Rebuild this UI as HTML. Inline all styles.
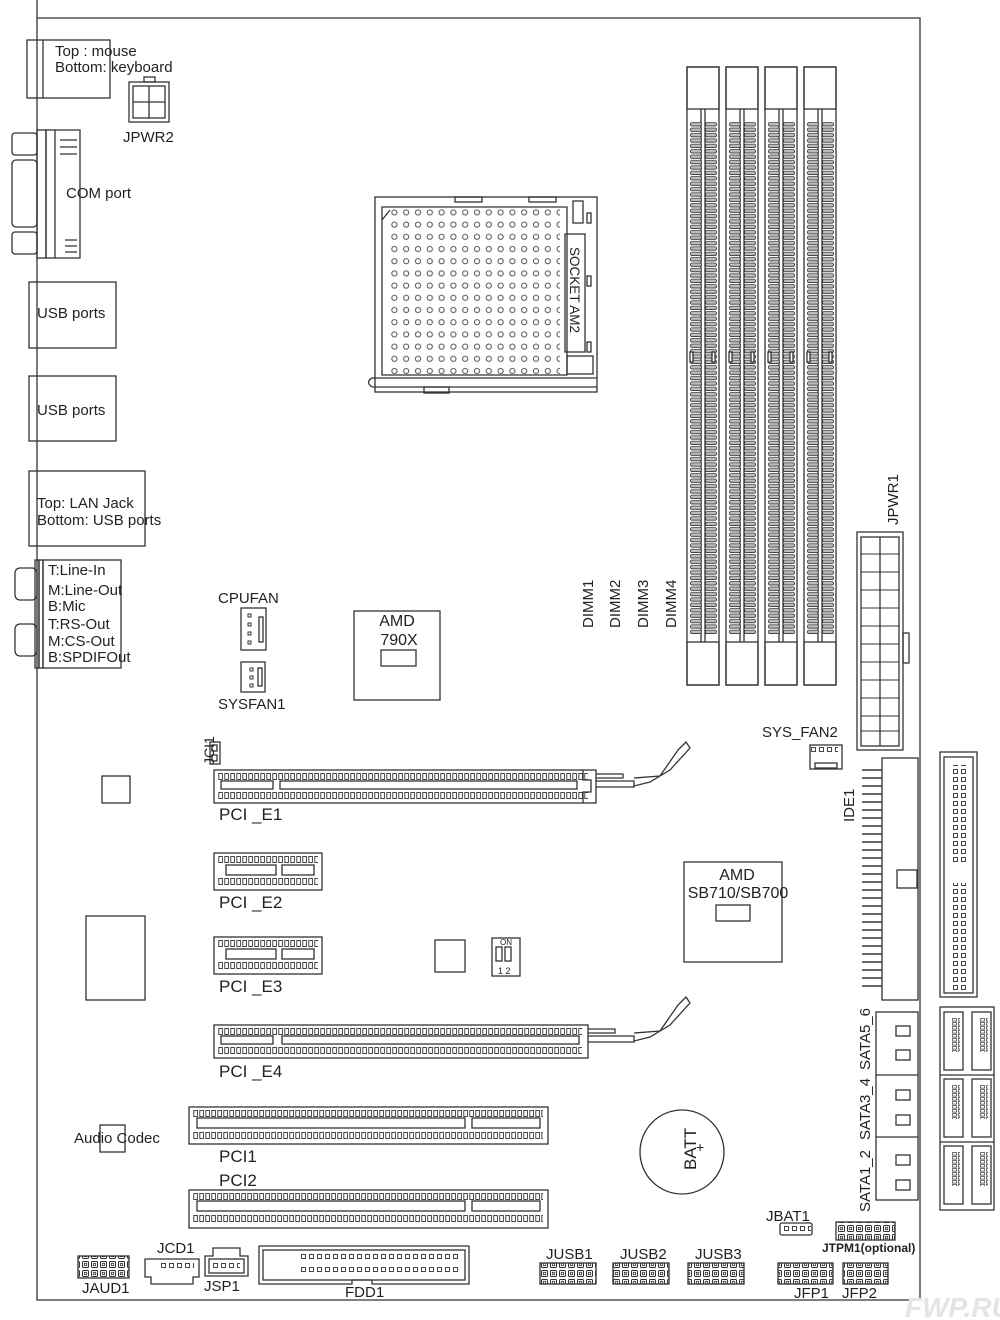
<!DOCTYPE html>
<html><head><meta charset="utf-8"><style>
html,body{margin:0;padding:0;background:#fff;}
svg{display:block;}
text{font-family:"Liberation Sans",Arial,sans-serif;fill:#222;}
</style></head><body>
<svg width="1000" height="1320" viewBox="0 0 1000 1320" xmlns="http://www.w3.org/2000/svg">
<defs>
<pattern id="pins" width="6" height="8" patternUnits="userSpaceOnUse"><rect x="0.8" y="0.5" width="3.6" height="6" fill="none" stroke="#333" stroke-width="0.9"/></pattern>
<pattern id="rib" width="12" height="5.4" patternUnits="userSpaceOnUse"><rect x="0.5" y="0.6" width="11" height="3.4" rx="1.5" fill="#bbb" stroke="#333" stroke-width="0.8"/></pattern>
<pattern id="sq" width="8" height="8" patternUnits="userSpaceOnUse"><rect x="1.5" y="1.5" width="4" height="4" fill="none" stroke="#333" stroke-width="0.9"/></pattern>
<pattern id="hdr" width="9" height="9" patternUnits="userSpaceOnUse"><rect x="1.5" y="1.5" width="6" height="6" rx="1" fill="none" stroke="#333" stroke-width="1"/><rect x="3.3" y="3.3" width="2.4" height="2.4" fill="none" stroke="#333" stroke-width="0.8"/></pattern>
<pattern id="dots" width="11.8" height="12.2" patternUnits="userSpaceOnUse"><circle cx="5" cy="5" r="2.6" fill="none" stroke="#555" stroke-width="1"/></pattern>
<pattern id="satapin" width="6" height="4" patternUnits="userSpaceOnUse"><rect x="0.5" y="0.5" width="4" height="2.6" fill="none" stroke="#333" stroke-width="0.7"/></pattern>
</defs>
<g fill="none" stroke="#333" stroke-width="1.3">
<path d="M37 0 V1300 H920 V18 H37"/>
<rect x="27" y="40" width="83" height="58"/><line x1="43" y1="40" x2="43" y2="98"/>
<rect x="129" y="82" width="40" height="40"/><rect x="133" y="86" width="32" height="32"/><line x1="149" y1="86" x2="149" y2="118"/><line x1="133" y1="102" x2="165" y2="102"/><rect x="144" y="77" width="11" height="5"/>
<rect x="12" y="133" width="25" height="22" rx="3"/><rect x="12" y="160" width="25" height="67" rx="4"/><rect x="12" y="232" width="25" height="22" rx="3"/>
<rect x="37" y="130" width="9" height="128"/><rect x="46" y="130" width="9" height="128"/><path d="M55 130 H80 V258 H55"/>
<path d="M60 140 H77 M60 147 H77 M60 154 H77 M65 240 H77 M65 246 H77 M65 252 H77"/>
<rect x="29" y="282" width="87" height="66"/><rect x="29" y="376" width="87" height="65"/><rect x="29" y="471" width="116" height="75"/>
<rect x="15" y="568" width="22" height="32" rx="5"/><rect x="15" y="624" width="22" height="32" rx="5"/>
<rect x="35" y="560" width="4" height="108"/><rect x="39" y="560" width="4" height="108"/><rect x="43" y="560" width="78" height="108"/>
<rect x="241" y="608" width="25" height="42"/><rect x="259" y="617" width="4" height="25"/>
<rect x="241" y="662" width="24" height="30"/><rect x="258" y="668" width="4" height="18"/>
<g stroke-width="1"><rect x="248" y="614" width="3" height="3"/><rect x="248" y="623" width="3" height="3"/><rect x="248" y="632" width="3" height="3"/><rect x="248" y="641" width="3" height="3"/><rect x="250" y="668" width="3" height="3"/><rect x="250" y="676" width="3" height="3"/><rect x="250" y="684" width="3" height="3"/></g>
<rect x="354" y="611" width="86" height="89"/><rect x="381" y="650" width="35" height="16"/>
<rect x="375" y="197" width="222" height="195"/>
<path d="M382 207 H567 V375 H382 Z"/><rect x="390" y="208" width="170" height="166" fill="url(#dots)" stroke="none"/>
<path d="M390 210 L382 220"/>
<rect x="565" y="234" width="20" height="118"/><rect x="573" y="201" width="10" height="22"/><rect x="587" y="213" width="4" height="10"/><rect x="587" y="276" width="4" height="10"/><rect x="587" y="342" width="4" height="10"/><rect x="567" y="356" width="26" height="18"/>
<path d="M372 378 H597 M372 387 H597 M372 378 Q365 382 372 387"/><rect x="424" y="387" width="25" height="6"/><rect x="455" y="197" width="27" height="5"/><rect x="529" y="197" width="27" height="5"/>
<g id="dimm">
<rect x="687" y="67" width="32" height="618"/><rect x="687" y="67" width="32" height="42"/><rect x="687" y="642" width="32" height="43"/>
<line x1="701" y1="109" x2="701" y2="642"/><line x1="705" y1="109" x2="705" y2="642"/>
<g transform="translate(690,122)"><rect width="12" height="512" fill="url(#rib)" stroke="none"/></g>
<g transform="translate(705,122)"><rect width="12" height="512" fill="url(#rib)" stroke="none"/></g>
<rect x="690" y="352" width="3" height="10" fill="#fff"/><rect x="712" y="352" width="3" height="10" fill="#fff"/>
</g>
<use href="#dimm" x="39"/><use href="#dimm" x="78"/><use href="#dimm" x="117"/>
<rect x="857" y="532" width="46" height="218"/><rect x="861" y="537" width="38" height="209"/><line x1="880" y1="537" x2="880" y2="746"/>
<path d="M861 554 H899 M861 572 H899 M861 590 H899 M861 608 H899 M861 626 H899 M861 644 H899 M861 662 H899 M861 680 H899 M861 698 H899 M861 716 H899 M861 731 H899" stroke-width="1"/>
<rect x="903" y="633" width="6" height="30"/>
<rect x="810" y="745" width="32" height="24"/><rect x="815" y="763" width="22" height="5"/>
<rect x="210" y="742" width="10" height="22"/><rect x="212" y="745" width="5" height="6"/><rect x="212" y="755" width="5" height="6"/>
<rect x="214" y="770" width="382" height="33"/><rect x="221" y="781" width="52" height="8"/><rect x="280" y="781" width="297" height="8"/>
<path d="M583 770 V780 H591 V792 H583 V803"/>
<path d="M596 774 H623 V778 H596 M596 781 H634 V787 H596 M634 778 L660 776 L678 750 L686 742 L690 748 L670 770 L650 782 L634 786"/>
<rect x="214" y="1025" width="374" height="33"/><rect x="221" y="1036" width="52" height="8"/><rect x="282" y="1036" width="297" height="8"/>
<path d="M588 1029 H615 V1033 H588 M588 1036 H634 V1042 H588 M634 1033 L660 1031 L678 1005 L686 997 L690 1003 L670 1025 L650 1037 L634 1041"/>
<rect x="214" y="853" width="108" height="37"/><rect x="226" y="865" width="50" height="10"/><rect x="282" y="865" width="32" height="10"/>
<rect x="214" y="937" width="108" height="37"/><rect x="226" y="949" width="50" height="10"/><rect x="282" y="949" width="32" height="10"/>
<rect x="189" y="1107" width="359" height="37"/><rect x="197" y="1118" width="268" height="10"/><rect x="472" y="1118" width="68" height="10"/>
<rect x="189" y="1190" width="359" height="38"/><rect x="197" y="1201" width="268" height="10"/><rect x="472" y="1201" width="68" height="10"/>
<rect x="102" y="776" width="28" height="27"/><rect x="86" y="916" width="59" height="84"/><rect x="435" y="940" width="30" height="32"/>
<rect x="492" y="938" width="28" height="38"/><rect x="496" y="947" width="6" height="14"/><rect x="505" y="947" width="6" height="14"/>
<rect x="100" y="1125" width="25" height="27"/>
<rect x="684" y="862" width="98" height="100"/><rect x="716" y="905" width="34" height="16"/>
<circle cx="682" cy="1152" r="42"/>
<rect x="882" y="758" width="36" height="242"/><rect x="897" y="870" width="20" height="18"/>
<path d="M862 770 H882 M862 778 H882 M862 786 H882 M862 794 H882 M862 802 H882 M862 810 H882 M862 818 H882 M862 826 H882 M862 834 H882 M862 842 H882 M862 850 H882 M862 858 H882 M862 866 H882 M862 874 H882 M862 882 H882 M862 890 H882 M862 898 H882 M862 906 H882 M862 914 H882 M862 922 H882 M862 930 H882 M862 938 H882 M862 946 H882 M862 954 H882 M862 962 H882 M862 970 H882 M862 978 H882 M862 986 H882" stroke-width="1.5"/>
<rect x="940" y="752" width="37" height="245"/><rect x="944" y="757" width="29" height="236"/>
<rect x="951" y="765" width="16" height="100" fill="url(#sq)" stroke="none"/><rect x="951" y="883" width="16" height="107" fill="url(#sq)" stroke="none"/>
<rect x="876" y="1012" width="42" height="188"/><line x1="876" y1="1075" x2="918" y2="1075"/><line x1="876" y1="1137" x2="918" y2="1137"/>
<rect x="896" y="1026" width="14" height="10"/><rect x="896" y="1050" width="14" height="10"/><rect x="896" y="1090" width="14" height="10"/><rect x="896" y="1115" width="14" height="10"/><rect x="896" y="1155" width="14" height="10"/><rect x="896" y="1180" width="14" height="10"/>
<rect x="940" y="1007" width="54" height="203"/><line x1="940" y1="1075" x2="994" y2="1075"/><line x1="940" y1="1142" x2="994" y2="1142"/>
<rect x="944" y="1012" width="19" height="58"/><rect x="972" y="1012" width="19" height="58"/><rect x="944" y="1079" width="19" height="58"/><rect x="972" y="1079" width="19" height="58"/><rect x="944" y="1146" width="19" height="58"/><rect x="972" y="1146" width="19" height="58"/>
<rect x="780" y="1223" width="32" height="12" rx="2"/><rect x="836" y="1222" width="59" height="18" fill="url(#hdr)"/>
<rect x="540" y="1263" width="56" height="21" fill="url(#hdr)"/><rect x="613" y="1263" width="56" height="21" fill="url(#hdr)"/><rect x="688" y="1263" width="56" height="21" fill="url(#hdr)"/>
<rect x="778" y="1263" width="55" height="21" fill="url(#hdr)"/><rect x="843" y="1263" width="45" height="21" fill="url(#hdr)"/>
<rect x="78" y="1256" width="51" height="22" fill="url(#hdr)"/>
<path d="M145 1259 H199 V1277 H193 V1284 H151 V1277 H145 Z"/>
<path d="M205 1256 H213 V1248 H240 V1256 H248 V1276 H205 Z"/><rect x="209" y="1259" width="35" height="14"/>
<path d="M259 1246 H469 V1284 H372 V1280 H352 V1284 H259 Z"/><rect x="263" y="1250" width="202" height="30"/>
</g>
<g transform="translate(218,773)"><rect width="370" height="8" fill="url(#pins)"/></g>
<g transform="translate(218,792)"><rect width="370" height="8" fill="url(#pins)"/></g>
<g transform="translate(218,1028)"><rect width="364" height="8" fill="url(#pins)"/></g>
<g transform="translate(218,1047)"><rect width="364" height="8" fill="url(#pins)"/></g>
<g transform="translate(218,856)"><rect width="100" height="8" fill="url(#pins)"/></g>
<g transform="translate(218,878)"><rect width="100" height="8" fill="url(#pins)"/></g>
<g transform="translate(218,940)"><rect width="100" height="8" fill="url(#pins)"/></g>
<g transform="translate(218,962)"><rect width="100" height="8" fill="url(#pins)"/></g>
<g transform="translate(193,1110)"><rect width="350" height="8" fill="url(#pins)"/></g>
<g transform="translate(193,1132)"><rect width="350" height="8" fill="url(#pins)"/></g>
<g transform="translate(193,1193)"><rect width="350" height="8" fill="url(#pins)"/></g>
<g transform="translate(193,1215)"><rect width="350" height="8" fill="url(#pins)"/></g>
<g transform="translate(300,1253)"><rect width="160" height="8" fill="url(#sq)"/></g>
<g transform="translate(300,1266)"><rect width="160" height="8" fill="url(#sq)"/></g>
<g transform="translate(160,1262)"><rect width="34" height="8" fill="url(#sq)"/></g>
<g transform="translate(212,1262)"><rect width="28" height="8" fill="url(#sq)"/></g>
<g transform="translate(810,746)"><rect width="28" height="8" fill="url(#sq)"/></g>
<g transform="translate(783,1225)"><rect width="28" height="8" fill="url(#sq)"/></g>
<g transform="translate(952,1018)"><rect width="8" height="34" fill="url(#satapin)"/></g>
<g transform="translate(980,1018)"><rect width="8" height="34" fill="url(#satapin)"/></g>
<g transform="translate(952,1085)"><rect width="8" height="34" fill="url(#satapin)"/></g>
<g transform="translate(980,1085)"><rect width="8" height="34" fill="url(#satapin)"/></g>
<g transform="translate(952,1152)"><rect width="8" height="34" fill="url(#satapin)"/></g>
<g transform="translate(980,1152)"><rect width="8" height="34" fill="url(#satapin)"/></g>
<g font-size="15">
<text x="55" y="56">Top : mouse</text><text x="55" y="72">Bottom: keyboard</text>
<text x="123" y="142">JPWR2</text>
<text x="66" y="198">COM  port</text>
<text x="37" y="318">USB ports</text><text x="37" y="415">USB ports</text>
<text x="37" y="508">Top: LAN Jack</text><text x="37" y="525">Bottom: USB ports</text>
<text x="48" y="575">T:Line-In</text><text x="48" y="595">M:Line-Out</text><text x="48" y="611">B:Mic</text><text x="48" y="629">T:RS-Out</text><text x="48" y="646">M:CS-Out</text><text x="48" y="662">B:SPDIFOut</text>
<text x="218" y="603">CPUFAN</text><text x="218" y="709">SYSFAN1</text>
<text x="397" y="626" font-size="16" text-anchor="middle">AMD</text><text x="399" y="645" font-size="16" text-anchor="middle">790X</text>
<text x="762" y="737">SYS_FAN2</text>
<text x="737" y="880" font-size="16" text-anchor="middle">AMD</text><text x="738" y="898" font-size="16" text-anchor="middle">SB710/SB700</text>
<text x="74" y="1143">Audio Codec</text>
<text x="219" y="820" font-size="17">PCI _E1</text><text x="219" y="908" font-size="17">PCI _E2</text><text x="219" y="992" font-size="17">PCI _E3</text><text x="219" y="1077" font-size="17">PCI _E4</text>
<text x="219" y="1162" font-size="17">PCI1</text><text x="219" y="1186" font-size="17">PCI2</text>
<text x="82" y="1293">JAUD1</text><text x="157" y="1253">JCD1</text><text x="204" y="1291">JSP1</text><text x="345" y="1297">FDD1</text>
<text x="546" y="1259">JUSB1</text><text x="620" y="1259">JUSB2</text><text x="695" y="1259">JUSB3</text>
<text x="766" y="1221">JBAT1</text><text x="822" y="1252" font-size="12" font-weight="bold">JTPM1(optional)</text>
<text x="794" y="1298">JFP1</text><text x="842" y="1298">JFP2</text>
<text x="500" y="945" font-size="8">ON</text><text x="498" y="974" font-size="9">1 2</text>
<text transform="translate(570,247) rotate(90)" font-size="13.5">SOCKET AM2</text>
<text transform="translate(696,1170) rotate(-90)" font-size="17">BATT</text><text x="696" y="1152" font-size="14">+</text>
<text transform="translate(214,765) rotate(-90)" font-size="14">JCI1</text>
<text transform="translate(593,628) rotate(-90)">DIMM1</text><text transform="translate(620,628) rotate(-90)">DIMM2</text><text transform="translate(648,628) rotate(-90)">DIMM3</text><text transform="translate(676,628) rotate(-90)">DIMM4</text>
<text transform="translate(898,525) rotate(-90)">JPWR1</text>
<text transform="translate(854,822) rotate(-90)">IDE1</text>
<text transform="translate(870,1070) rotate(-90)">SATA5_6</text><text transform="translate(870,1140) rotate(-90)">SATA3_4</text><text transform="translate(870,1212) rotate(-90)">SATA1_2</text>
</g>
<text x="905" y="1317" font-size="28" font-weight="bold" font-style="italic" style="fill:#e4e4e4">FWP.RU</text>
</svg>
</body></html>
